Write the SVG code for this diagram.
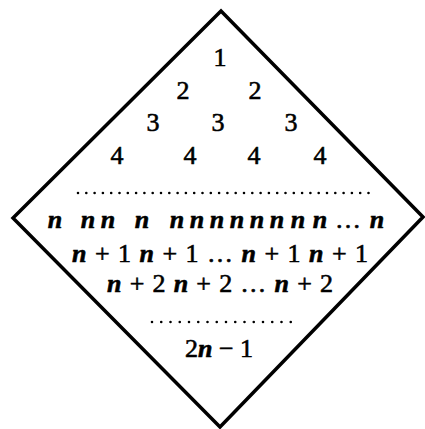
<svg xmlns="http://www.w3.org/2000/svg" width="425" height="429" viewBox="0 0 425 429">
<defs>
<style>
.dot{stroke:#000;stroke-width:2.6;stroke-linecap:round;fill:none}
</style>
</defs>
<rect width="425" height="429" fill="#fff"/>
<g id="diamond"><polygon points="221,11 423,217 220,427 13,218" fill="none" stroke="#000" stroke-width="3.5" stroke-linejoin="miter"/></g>
<g id="rows" font-family="Liberation Serif, Times New Roman, serif" font-size="26" fill="#000" stroke="#000" stroke-width="0.6" text-anchor="middle">
<text x="220" y="66">1</text>
<text x="183" y="99">2</text><text x="255" y="99">2</text>
<text x="153" y="131">3</text><text x="218" y="131">3</text><text x="291" y="131">3</text>
<text x="117" y="164">4</text><text x="190" y="164">4</text><text x="254" y="164">4</text><text x="320" y="164">4</text>
</g>
<g id="dots1"><line class="dot" x1="78" y1="193" x2="369" y2="193" stroke-dasharray="0 8.3"/></g>
<g id="rown" font-family="Liberation Serif, Times New Roman, serif" font-size="26" fill="#000" stroke="#000" stroke-width="0.6" text-anchor="middle" font-style="italic" font-weight="bold">
<text x="55" y="228">n</text><text x="88" y="228">n</text><text x="108" y="228">n</text><text x="142" y="228">n</text>
<text x="177" y="228">n</text><text x="197" y="228">n</text><text x="217" y="228">n</text><text x="237" y="228">n</text>
<text x="257" y="228">n</text><text x="277" y="228">n</text><text x="298" y="228">n</text><text x="320" y="228">n</text>
<text x="377" y="228">n</text>
<text x="348" y="228" font-style="normal" font-weight="normal">…</text>
</g>
<g id="rown1" font-family="Liberation Serif, Times New Roman, serif" font-size="26" fill="#000" stroke="#000" stroke-width="0.6">
<text x="72" y="262" textLength="296" lengthAdjust="spacing"><tspan font-style="italic" font-weight="bold">n</tspan> + 1 <tspan font-style="italic" font-weight="bold">n</tspan> + 1 … <tspan font-style="italic" font-weight="bold">n</tspan> + 1 <tspan font-style="italic" font-weight="bold">n</tspan> + 1</text>
</g>
<g id="rown2" font-family="Liberation Serif, Times New Roman, serif" font-size="26" fill="#000" stroke="#000" stroke-width="0.6">
<text x="107" y="292" textLength="226" lengthAdjust="spacing"><tspan font-style="italic" font-weight="bold">n</tspan> + 2 <tspan font-style="italic" font-weight="bold">n</tspan> + 2 … <tspan font-style="italic" font-weight="bold">n</tspan> + 2</text>
</g>
<g id="dots2"><line class="dot" x1="152" y1="322" x2="291" y2="322" stroke-dasharray="0 9.25"/></g>
<g id="last" font-family="Liberation Serif, Times New Roman, serif" font-size="26" fill="#000" stroke="#000" stroke-width="0.6">
<text x="185" y="357" textLength="68" lengthAdjust="spacing">2<tspan font-style="italic" font-weight="bold">n</tspan> − 1</text>
</g>
</svg>
